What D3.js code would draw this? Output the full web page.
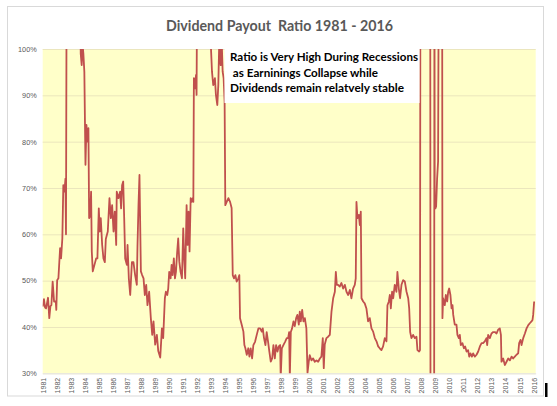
<!DOCTYPE html>
<html>
<head>
<meta charset="utf-8">
<title>Dividend Payout Ratio 1981 - 2016</title>
<script src="https://cdn.jsdelivr.net/npm/d3@7"></script>
<style>
  body { margin: 0; background: #fff; }
  svg { display: block; }
</style>
</head>
<body>
<div id="chart"></div>
<script>
// payout ratio in %, [decimal year, value] - values above 100 / below 30 run off the chart
const ratio1980s = [[1981.00,44.4],[1981.09,46.0],[1981.17,44.2],[1981.24,44.0],[1981.38,46.3],[1981.47,41.9],[1981.55,44.5],[1981.62,44.7],[1981.71,49.8],[1981.81,45.5],[1981.93,45.5],[1981.97,43.7],
  [1982.03,50.1],[1982.12,50.5],[1982.24,57.0],[1982.31,54.8],[1982.40,59.1],[1982.47,70.6],[1982.55,69.2],[1982.62,72.0],[1982.66,60.0],[1982.71,120],
  [1983.66,120],[1983.71,99],[1983.78,96.5],[1983.84,101],[1983.90,99],[1983.97,95],
  [1984.05,75],[1984.12,83.6],[1984.19,80],[1984.26,82.9],[1984.31,63.5],[1984.38,64],[1984.45,69.2],[1984.50,56.3],[1984.57,52],[1984.69,53.4],[1984.81,54.8],[1984.90,54.8],
  [1985.00,65.6],[1985.07,60.6],[1985.14,63.5],[1985.24,57.7],[1985.33,54.8],[1985.43,54],[1985.50,59],[1985.64,60.6],[1985.76,67.8],[1985.86,63.5],[1985.95,66.3],
  [1986.05,60.6],[1986.14,64.9],[1986.24,57.7],[1986.28,69.2],[1986.40,67.8],[1986.52,69.2],[1986.59,65.6],[1986.66,70.6],[1986.74,71.4],[1986.81,63.5],[1986.88,54.8],
  [1987.00,53.4],[1987.05,57.7],[1987.14,50.5],[1987.24,46.9],[1987.36,54],[1987.47,54],[1987.59,51.2],[1987.71,49.1],[1987.76,57.7],[1987.83,66.3],[1987.90,72.8],
  [1988.00,52],[1988.09,51.2],[1988.19,50.5],[1988.28,46.9],[1988.38,49.1],[1988.47,44.7],[1988.59,47.6],[1988.71,41.9],[1988.81,38.3],[1988.90,41.2],
  [1989.02,36.2],[1989.14,38.3],[1989.24,34.8],[1989.38,33.4],[1989.50,39.7],[1989.59,37.6],[1989.71,46.2],[1989.78,47.6],[1989.88,46.9],[1989.95,48.3]];

const ratio1990s = [[1990.02,51.9],[1990.12,50.5],[1990.19,53.4],[1990.26,51.2],[1990.35,54.8],[1990.43,50.5],[1990.50,51.9],[1990.59,56.3],[1990.66,59.1],[1990.74,54.1],[1990.83,51.9],[1990.93,50.5],
  [1991.02,61.3],[1991.09,54.8],[1991.16,50.5],[1991.26,66.3],[1991.33,57.7],[1991.40,64.9],[1991.47,56.3],[1991.55,67.8],[1991.62,67.0],[1991.69,67.8],[1991.74,67.0],[1991.78,93.7],[1991.86,91.5],[1991.93,94.4],[1991.97,90.1],
  [1992.02,120],[1992.93,120],
  [1993.00,100],[1993.07,95.1],[1993.16,92.2],[1993.28,93.7],[1993.35,90.1],[1993.45,87.9],[1993.52,92.2],[1993.59,102],[1993.69,96.5],[1993.76,102],[1993.83,95.1],[1993.90,93.7],[1993.97,88.6],
  [1994.02,66.3],[1994.12,67.0],[1994.24,67.8],[1994.36,67.0],[1994.47,65.7],[1994.55,51.2],[1994.64,50.5],[1994.74,51.2],[1994.83,49.8],[1994.95,50.5],
  [1995.02,51.2],[1995.07,41.9],[1995.19,40.5],[1995.31,39.0],[1995.38,36.1],[1995.45,35.4],[1995.55,34.0],[1995.66,35.4],[1995.74,33.6],[1995.83,35.4],[1995.93,33.2],
  [1996.02,36.1],[1996.14,36.8],[1996.26,38.3],[1996.38,39.7],[1996.50,39.7],[1996.62,39.0],[1996.69,39.7],[1996.78,37.6],[1996.88,36.1],[1996.97,38.9],
  [1997.07,36.8],[1997.16,34.7],[1997.26,32.5],[1997.36,33.2],[1997.45,36.1],[1997.55,33.2],[1997.64,36.1],[1997.74,34.7],[1997.83,35.8],[1997.93,36.1],[1997.97,29],
  [1998.05,35.4],[1998.16,36.1],[1998.28,36.8],[1998.40,37.6],[1998.50,37.6],[1998.57,38.9],[1998.62,29],[1998.69,38.9],[1998.78,39.7],[1998.88,41.2],[1998.97,40.2],
  [1999.07,41.9],[1999.16,42.6],[1999.26,40.5],[1999.33,43.3],[1999.40,41.2],[1999.50,43.7],[1999.59,41.2],[1999.69,41.9],[1999.80,39.7],[1999.88,30.1],[1999.97,32.5]];

const ratio2000s = [[2000.04,33.9],[2000.16,32.8],[2000.28,33.2],[2000.40,32.5],[2000.52,32.8],[2000.64,32.5],[2000.76,33.2],[2000.87,33.6],[2000.97,37.6],
  [2001.04,31.1],[2001.11,36.2],[2001.23,37.6],[2001.35,37.9],[2001.47,38.3],[2001.59,43.3],[2001.71,46.2],[2001.83,47.6],[2001.90,51.9],[2001.97,49.1],
  [2002.06,49.1],[2002.18,48.7],[2002.30,49.5],[2002.42,48.3],[2002.54,49.1],[2002.66,47.6],[2002.78,46.9],[2002.90,48.0],
  [2003.01,46.2],[2003.13,48.3],[2003.25,49.1],[2003.32,50.5],[2003.37,67.0],[2003.44,63.5],[2003.54,64.2],[2003.61,62.0],[2003.68,64.9],[2003.73,46.2],[2003.85,45.5],[2003.96,45.1],
  [2004.08,44.0],[2004.20,41.2],[2004.32,41.9],[2004.44,39.7],[2004.56,39.0],[2004.68,37.6],[2004.80,36.9],[2004.92,35.8],
  [2005.03,35.4],[2005.15,35.0],[2005.27,35.8],[2005.39,37.6],[2005.51,36.9],[2005.58,44.7],[2005.68,45.5],[2005.75,46.9],[2005.82,44.0],[2005.91,47.6],[2005.99,46.2],
  [2006.10,49.1],[2006.22,47.6],[2006.29,51.9],[2006.39,48.3],[2006.48,46.2],[2006.58,49.1],[2006.70,50.1],[2006.82,49.8],[2006.94,47.6],
  [2007.06,46.2],[2007.13,44.0],[2007.20,38.9],[2007.29,37.6],[2007.41,38.3],[2007.53,37.6],[2007.65,37.9],[2007.72,35.0],[2007.84,34.7],[2007.90,35.0],[2007.93,120],
  [2008.63,120],[2008.65,20],[2008.91,20],[2008.93,120],[2008.95,67.8],[2009.00,65.6],[2009.05,66.0],[2009.12,72.0],[2009.19,75.7],[2009.24,120],
  [2009.48,120],[2009.50,41.9],[2009.55,46.2],[2009.67,44.7],[2009.74,46.9],[2009.84,45.5],[2009.91,47.6],[2009.98,48.3]];

const ratio2010s = [[2010.07,46.9],[2010.15,44.0],[2010.22,44.7],[2010.27,42.6],[2010.38,40.5],[2010.50,40.5],[2010.57,38.3],[2010.67,37.6],[2010.74,38.3],[2010.81,36.1],[2010.93,36.5],
  [2011.03,35.4],[2011.12,35.8],[2011.22,34.7],[2011.33,35.0],[2011.41,33.6],[2011.50,34.3],[2011.60,33.6],[2011.69,34.3],[2011.81,33.6],[2011.93,34.0],
  [2012.05,34.7],[2012.17,35.8],[2012.29,36.5],[2012.40,36.5],[2012.52,36.9],[2012.64,37.6],[2012.69,36.1],[2012.76,38.3],[2012.88,37.6],
  [2013.00,38.6],[2013.12,38.9],[2013.24,38.9],[2013.36,38.6],[2013.47,39.4],[2013.59,39.7],[2013.67,38.3],[2013.71,32.5],[2013.83,33.2],[2013.95,31.8],
  [2014.07,32.5],[2014.19,33.2],[2014.31,32.8],[2014.43,33.6],[2014.54,33.2],[2014.66,33.6],[2014.78,34.0],[2014.90,34.3],[2014.97,36.5],
  [2015.07,37.2],[2015.14,36.1],[2015.26,37.6],[2015.38,38.6],[2015.50,39.7],[2015.62,40.4],[2015.73,40.8],[2015.85,41.2],[2015.92,41.5],[2015.97,42.6],[2016.04,45.5]];

const yTicks = [30, 40, 50, 60, 70, 80, 90, 100];
const yearTicks = [1981,1982,1983,1984,1985,1986,1987,1988,1989,1990,1991,1992,1993,1994,1995,1996,1997,1998,
  1999,2000,2001,2002,2003,2004,2005,2006,2007,2008,2009,2010,2011,2012,2013,2014,2015,2016];
const title = "Dividend Payout  Ratio 1981 - 2016";
const note = ["Ratio is Very High During Recessions", " as Earninings Collapse while", "Dividends remain relatvely stable"];

var W = 557, H = 406;
var margin = {top: 49, right: 21.3, bottom: 32.7, left: 42.7},
    width = W - margin.left - margin.right,
    height = H - margin.top - margin.bottom;

var data = ratio1980s.concat(ratio1990s, ratio2000s, ratio2010s);

var x = d3.scaleLinear().domain([1981, 2016.15]).range([0, width]);
var y = d3.scaleLinear().domain([30, 100]).range([height, 0]);

var svg = d3.select("#chart").append("svg")
    .attr("width", W)
    .attr("height", H);

// chart frame
svg.append("rect")
    .attr("x", 7.5).attr("y", 6.5)
    .attr("width", 536).attr("height", 389.5)
    .attr("fill", "#fff")
    .attr("stroke", "#d9d9d9");

svg.append("text")
    .attr("x", 166).attr("y", 30.7)
    .attr("textLength", 227)
    .attr("lengthAdjust", "spacingAndGlyphs")
    .style("white-space", "pre")
    .style("font-family", "Lato, 'Open Sans', sans-serif")
    .style("font-weight", "bold")
    .style("font-size", "14.5px")
    .attr("fill", "#595959")
    .text(title);

var g = svg.append("g")
    .attr("transform", "translate(" + margin.left + "," + margin.top + ")");

g.append("rect")
    .attr("width", width).attr("height", height)
    .attr("fill", "#ffffc9");

// gridlines
g.append("g")
    .attr("class", "grid")
    .call(d3.axisLeft(y).tickValues(yTicks).tickSize(-width).tickFormat(""))
    .call(function(s) { s.select(".domain").remove(); })
    .selectAll("line")
      .attr("stroke", "#ebe6bd")
      .attr("stroke-width", 1);

// y axis labels
g.append("g")
    .call(d3.axisLeft(y).tickValues(yTicks).tickSize(0).tickPadding(6).tickFormat(function(d) { return d + "%"; }))
    .call(function(s) { s.select(".domain").remove(); })
    .selectAll("text")
      .style("font-family", "'Liberation Sans', Arial, sans-serif")
      .style("font-size", "7.3px")
      .attr("fill", "#595959");

// x axis, labels turned on their side
g.append("g")
    .attr("transform", "translate(0," + height + ")")
    .call(d3.axisBottom(x).tickValues(yearTicks).tickSize(0).tickFormat(d3.format("d")))
    .call(function(s) { s.select(".domain").attr("stroke", "#e6e6e6"); })
    .selectAll("text")
      .attr("transform", "rotate(-90)")
      .attr("x", -4.5)
      .attr("y", 0)
      .attr("dy", "0.35em")
      .attr("text-anchor", "end")
      .style("font-family", "'Liberation Sans', Arial, sans-serif")
      .style("font-size", "7px")
      .attr("fill", "#595959");

g.append("clipPath").attr("id", "plotclip")
  .append("rect").attr("width", width).attr("height", height);

var line = d3.line()
    .x(function(d) { return x(d[0]); })
    .y(function(d) { return y(d[1]); });

g.append("path")
    .datum(data)
    .attr("clip-path", "url(#plotclip)")
    .attr("fill", "none")
    .attr("stroke", "#c0504d")
    .attr("stroke-width", 1.8)
    .attr("stroke-linejoin", "round")
    .attr("d", line);

// annotation box
svg.append("rect")
    .attr("x", 224.5).attr("y", 49)
    .attr("width", 195).attr("height", 54)
    .attr("fill", "#fff");

var noteWidths = [188, 148, 174];
svg.selectAll(".note")
    .data(note)
  .enter().append("text")
    .attr("class", "note")
    .attr("x", 230)
    .attr("y", function(d, i) { return 61 + i * 15.5; })
    .attr("textLength", function(d, i) { return noteWidths[i]; })
    .attr("lengthAdjust", "spacingAndGlyphs")
    .style("white-space", "pre")
    .style("font-family", "Lato, 'Open Sans', sans-serif")
    .style("font-weight", "bold")
    .style("font-size", "11px")
    .attr("fill", "#000")
    .text(function(d) { return d; });

// little black mark at the lower right
svg.append("rect")
    .attr("x", 545).attr("y", 383)
    .attr("width", 2.5).attr("height", 14)
    .attr("fill", "#000");
</script>
</body>
</html>
